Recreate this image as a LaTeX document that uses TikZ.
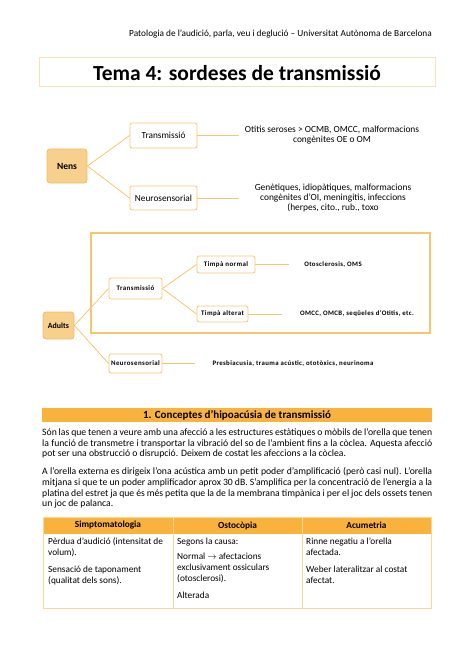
\documentclass[tikz,border=0pt]{standalone}
\usepackage{fontspec}
\setmainfont{Carlito}
\newfontfamily\spaced[LetterSpace=6]{Carlito}
\usepackage{tikz}
\usetikzlibrary{calc}
\usepackage{xcolor}
\definecolor{tanfill}{RGB}{247,208,142}
\definecolor{tanline}{RGB}{238,190,105}
\definecolor{branch}{RGB}{246,198,110}
\definecolor{barorange}{RGB}{249,178,60}
\definecolor{cellline}{RGB}{252,214,150}
\definecolor{titleline}{RGB}{248,226,178}

\begin{document}
\begin{tikzpicture}[x=1pt,y=-1pt,
  rootbox/.style={draw=tanline,fill=tanfill,rounded corners=3pt,line width=.8pt,
    font=\fontsize{9.5}{10}\selectfont\bfseries,inner sep=0pt},
  kidbox/.style={draw=branch,fill=white,rounded corners=2pt,line width=.8pt,
    font=\fontsize{9.3}{10}\selectfont,inner sep=0pt},
  adultbox/.style={kidbox,font=\fontsize{6.9}{8}\selectfont\spaced\bfseries},
  leaf/.style={font=\fontsize{9.4}{10}\selectfont,align=center,inner sep=0pt},
  adultleaf/.style={font=\fontsize{6.8}{8}\selectfont\spaced\bfseries,inner sep=0pt},
  link/.style={draw=branch,line width=.8pt},
  bodytext/.style={font=\fontsize{9.7}{10.6}\selectfont,text width=390pt,
    align=justify,inner sep=0pt,anchor=north west},
  cell/.style={font=\fontsize{9.3}{11}\selectfont,align=left,inner sep=0pt,anchor=north west}]
  \useasboundingbox (0,0) rectangle (474,671);
  % header
  \node[anchor=east,font=\fontsize{9.3}{10}\selectfont,inner sep=0pt] (head) at (432,34)
    {Patologia de l’audició, parla, veu i deglució -- Universitat Autònoma de Barcelona};
  \draw[titleline,line width=1pt] (39,58) rectangle (435,87);
  \node[font=\fontsize{21.5}{22}\selectfont\bfseries,inner sep=0pt] (title) at (237,73)
    {Tema 4: sordeses de transmissió};

  % nens
  \node[rootbox,minimum width=40pt,minimum height=34pt] (nens) at (67,166) {Nens};
  \node[kidbox,minimum width=67pt,minimum height=25pt] (ktr) at (163.5,135.5) {Transmissió};
  \node[kidbox,minimum width=67pt,minimum height=24pt] (kne) at (163.5,198) {Neurosensorial};
  \coordinate (ktrend) at (239,135.5);
  \coordinate (kneend) at (239,198);
  \draw[link] (nens.east) -- (ktr.west);
  \draw[link] (nens.east) -- (kne.west);
  \draw[link] (ktr.east) -- (ktrend);
  \draw[link] (kne.east) -- (kneend);
  \node[leaf] (ktrtxt) at (332,135)
    {Otitis seroses > OCMB, OMCC, malformacions\\congènites OE o OM};
  \node[leaf] (knetxt) at (333,198)
    {Genètiques, idiopàtiques, malformacions\\congènites d’OI, meningitis, infeccions\\(herpes, cito., rub., toxo};

  % adults
  \draw[branch,line width=1.2pt] (91,233) rectangle (430,333);
  \node[rootbox,minimum width=31pt,minimum height=27pt,
    font=\fontsize{7.9}{8}\selectfont\bfseries] (adults) at (58.5,325.5) {Adults};
  \node[adultbox,minimum width=53pt,minimum height=21pt] (atr) at (135.5,288.5) {Transmissió};
  \node[adultbox,minimum width=53pt,minimum height=19pt] (ane) at (135.5,363.5) {Neurosensorial};
  \node[adultbox,minimum width=58pt,minimum height=17pt] (tnor) at (226,264.5) {Timpà normal};
  \node[adultbox,minimum width=51pt,minimum height=16pt] (talt) at (222.5,314) {Timpà alterat};
  \coordinate (tnorend) at (289,264.5);
  \coordinate (taltend) at (282,314);
  \coordinate (aneend) at (195,363.5);
  \draw[link] (adults.east) -- (atr.west);
  \draw[link] (adults.east) -- (ane.west);
  \draw[link] (atr.east) -- (tnor.west);
  \draw[link] (atr.east) -- (talt.west);
  \draw[link] (tnor.east) -- (tnorend);
  \draw[link] (talt.east) -- (taltend);
  \draw[link] (ane.east) -- (aneend);
  \node[adultleaf] (tnortxt) at (333,264.5) {Otosclerosis, OMS};
  \node[adultleaf] (talttxt) at (357,314) {OMCC, OMCB, seqüeles d’Otitis, etc.};
  \node[adultleaf] (anetxt) at (293,364) {Presbiacusia, trauma acústic, ototòxics, neurinoma};

  % section 1
  \fill[barorange] (42,408) rectangle (432,422);
  \node[font=\fontsize{11}{11}\selectfont\bfseries,inner sep=0pt] (sec) at (237,415)
    {1. Conceptes d’hipoacúsia de transmissió};
  \node[bodytext] (par1) at (42,428.5)
    {Són las que tenen a veure amb una afecció a les estructures estàtiques o mòbils de l’orella que tenen\linebreak
    la funció de transmetre i transportar la vibració del so de l’ambient fins a la còclea. Aquesta afecció\linebreak
    pot ser una obstrucció o disrupció. Deixem de costat les afeccions a la còclea.};
  \node[bodytext] (par2) at (42,467.5)
    {A l’orella externa es dirigeix l’ona acústica amb un petit poder d’amplificació (però casi nul). L’orella\linebreak
    mitjana si que te un poder amplificador aprox 30 dB. S’amplifica per la concentració de l’energia a la\linebreak
    platina del estret ja que és més petita que la de la membrana timpànica i per el joc dels ossets tenen\linebreak
    un joc de palanca.};

  % table
  \fill[barorange] (43,517) rectangle (431,534);
  \draw[cellline,line width=.8pt] (43,517) rectangle (431,608);
  \foreach \xcol in {173,302}
    \draw[cellline,line width=.6pt] (\xcol,517) -- (\xcol,608);
  \foreach \xmid/\name/\txt in {108/hsim/Simptomatologia,237.5/hoto/Ostocòpia,366.5/hacu/Acumetria}
    \node[font=\fontsize{9.3}{10}\selectfont\bfseries,inner sep=0pt] (\name) at (\xmid,525.5) {\txt};
  \node[cell] (csim) at (48,537.5)
    {Pèrdua d’audició (intensitat de\\volum).\\[6pt]Sensació de taponament\\(qualitat dels sons).};
  \node[cell] (coto) at (177,537.5)
    {Segons la causa:\\[4pt]Normal $\rightarrow$ afectacions\\exclusivament ossiculars\\(otosclerosi).\\[6pt]Alterada};
  \node[cell] (cacu) at (306,537.5)
    {Rinne negatiu a l’orella\\afectada.\\[6pt]Weber lateralitzar al costat\\afectat.};
\end{tikzpicture}
\end{document}
